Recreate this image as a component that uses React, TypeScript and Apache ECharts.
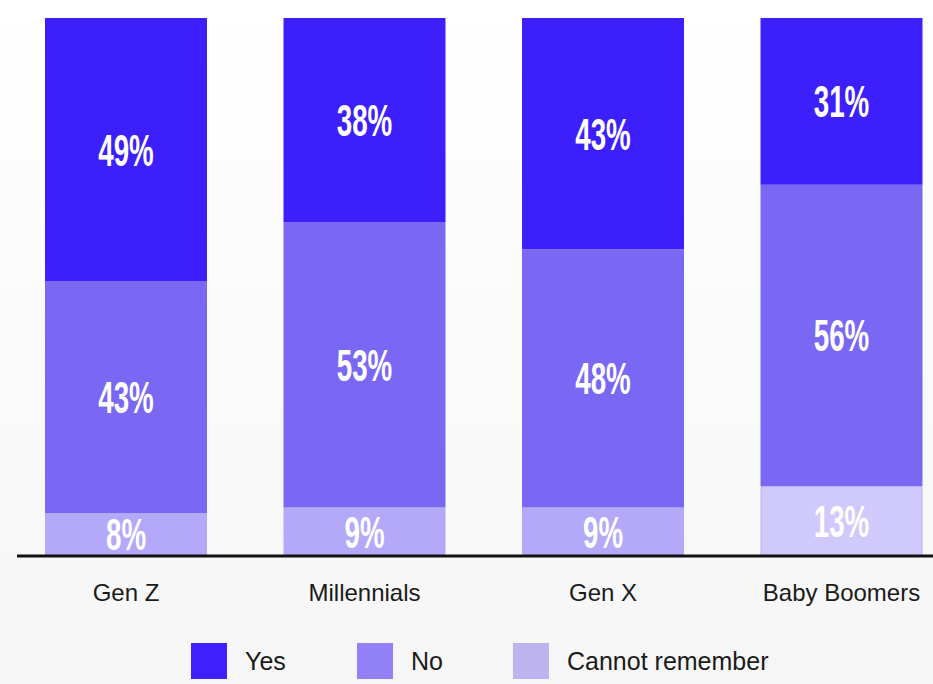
import React, { useEffect, useRef } from "react";
import * as echarts from "echarts";

const categories = ["Gen Z", "Millennials", "Gen X", "Baby Boomers"];
const yesValues = [49, 38, 43, 31];
const noValues = [43, 53, 48, 56];
const cannotValues = [8, 9, 9, 13];
const seriesNames = ["Yes", "No", "Cannot remember"];
const barColors = ["#3d1ffc", "#7a68f5", "#b4a9f9"];
const legendColors = ["#3f1ffb", "#9381f8", "#bcb3ef"];
const boomerCannotColor = "#d0c9fb";

export default function App() {
  const ref = useRef<HTMLDivElement>(null);
  useEffect(() => {
    if (!ref.current) return;
    const chart = echarts.init(ref.current, null, { renderer: "svg" });
    const valuesList = [yesValues, noValues, cannotValues];
    // stacking order bottom-up: Cannot remember, No, Yes
    const order = [2, 1, 0];
    const barSeries: any[] = order.map((i) => ({
      name: seriesNames[i],
      type: "bar",
      stack: "total",
      barWidth: 162,
      itemStyle: { color: barColors[i] },
      data: valuesList[i].map((v, j) =>
        i === 2 && j === 3
          ? { value: v, itemStyle: { color: boomerCannotColor, borderColor: "#b9b0ee", borderWidth: 1 } }
          : v
      ),
    }));
    const labelData: any[] = [];
    categories.forEach((_, j) => {
      let base = 0;
      order.forEach((i) => {
        const v = valuesList[i][j];
        labelData.push([j, base + v / 2, v]);
        base += v;
      });
    });
    const labelSeries = {
      name: "labels",
      type: "custom",
      z: 10,
      silent: true,
      data: labelData,
      renderItem: (params: any, api: any) => {
        const p = api.coord([api.value(0), api.value(1)]);
        return {
          type: "text",
          x: p[0],
          y: p[1] + 1,
          scaleX: 0.63,
          style: {
            text: api.value(2) + "%",
            fill: "#ffffff",
            font: "bold 44px 'Liberation Sans', Arial, sans-serif",
            align: "center",
            verticalAlign: "middle",
          },
        };
      },
    };
    const legendLefts = [191, 357, 513];
    chart.setOption({
      animation: false,
      backgroundColor: {
        type: "linear",
        x: 0, y: 0, x2: 0, y2: 1,
        colorStops: [
          { offset: 0, color: "#ffffff" },
          { offset: 1, color: "#f6f6f6" },
        ],
      },
      grid: { left: 126, top: 18, right: 91.5, height: 538 },
      xAxis: {
        type: "category",
        data: categories,
        boundaryGap: false,
        axisLine: { show: false },
        axisTick: { show: false },
        axisLabel: {
          color: "#1a1a1a",
          fontSize: 24,
          fontFamily: "'Liberation Sans', Arial, sans-serif",
          margin: 24,
        },
      },
      yAxis: {
        type: "value",
        min: 0,
        max: 100,
        show: false,
        splitLine: { show: false },
      },
      legend: seriesNames.map((name, i) => ({
        left: legendLefts[i],
        top: 643,
        padding: 0,
        icon: "rect",
        itemWidth: 36,
        itemHeight: 36,
        selectedMode: false,
        data: [{ name, itemStyle: { color: legendColors[i] } }],
        textStyle: {
          color: "#1a1a1a",
          fontSize: 25,
          fontFamily: "'Liberation Sans', Arial, sans-serif",
          padding: [0, 0, 0, 13],
        },
      })),
      graphic: [
        {
          type: "line",
          shape: { x1: 17, y1: 556, x2: 933, y2: 556 },
          style: { stroke: "#111111", lineWidth: 3 },
          z: 10,
        },
      ],
      series: [...barSeries, labelSeries],
    });
    return () => chart.dispose();
  }, []);
  return (
    <div
      ref={ref}
      style={{ position: "fixed", left: 0, top: 0, width: 933, height: 684 }}
    />
  );
}
